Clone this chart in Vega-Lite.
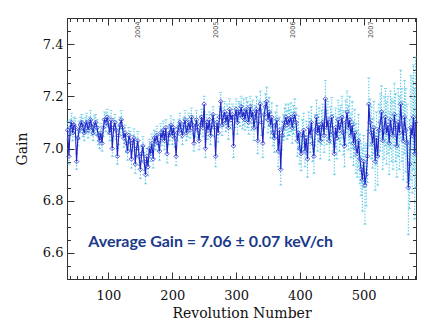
{
  "$schema": "https://vega.github.io/schema/vega-lite/v6.json",
  "width": 349,
  "height": 261,
  "autosize": {"type": "none"},
  "padding": {"left": 67, "top": 18, "right": 8, "bottom": 45},
  "background": "white",
  "config": {"view": {"stroke": "#222", "strokeWidth": 1}},
  "datasets": {
    "gain": [
      {"r":36,"g":7.07,"e":0.035},{"r":38,"g":6.97,"e":0.03},{"r":40,"g":7.08,"e":0.03},{"r":42,"g":7.10,"e":0.035},{"r":44,"g":7.06,"e":0.03},
      {"r":46,"g":7.09,"e":0.03},{"r":48,"g":7.08,"e":0.035},{"r":50,"g":6.95,"e":0.03},{"r":52,"g":7.04,"e":0.03},{"r":54,"g":7.07,"e":0.035},
      {"r":56,"g":7.09,"e":0.03},{"r":58,"g":7.10,"e":0.03},{"r":60,"g":7.08,"e":0.035},{"r":62,"g":7.06,"e":0.03},{"r":64,"g":7.09,"e":0.03},
      {"r":66,"g":7.10,"e":0.035},{"r":68,"g":7.07,"e":0.03},{"r":70,"g":7.09,"e":0.03},{"r":72,"g":7.11,"e":0.035},{"r":74,"g":7.08,"e":0.03},
      {"r":76,"g":7.06,"e":0.03},{"r":78,"g":7.09,"e":0.035},{"r":80,"g":7.10,"e":0.03},{"r":82,"g":7.08,"e":0.03},{"r":84,"g":7.05,"e":0.035},
      {"r":86,"g":7.03,"e":0.03},{"r":88,"g":7.06,"e":0.035},{"r":90,"g":7.02,"e":0.03},{"r":92,"g":7.08,"e":0.035},{"r":94,"g":7.11,"e":0.03},
      {"r":96,"g":7.10,"e":0.035},{"r":98,"g":7.12,"e":0.03},{"r":100,"g":7.09,"e":0.035},{"r":102,"g":7.06,"e":0.03},{"r":104,"g":7.11,"e":0.035},
      {"r":106,"g":7.00,"e":0.03},{"r":108,"g":7.08,"e":0.035},{"r":110,"g":7.10,"e":0.03},{"r":112,"g":7.07,"e":0.035},{"r":114,"g":6.97,"e":0.03},
      {"r":116,"g":7.05,"e":0.035},{"r":118,"g":7.09,"e":0.03},{"r":120,"g":7.11,"e":0.035},{"r":122,"g":7.08,"e":0.03},{"r":124,"g":7.04,"e":0.035},
      {"r":126,"g":7.06,"e":0.03},{"r":128,"g":7.02,"e":0.035},{"r":130,"g":6.99,"e":0.035},{"r":132,"g":7.05,"e":0.03},{"r":134,"g":7.03,"e":0.035},
      {"r":136,"g":6.96,"e":0.035},{"r":138,"g":7.02,"e":0.03},{"r":140,"g":7.04,"e":0.035},{"r":142,"g":6.94,"e":0.035},{"r":144,"g":7.00,"e":0.03},
      {"r":146,"g":7.03,"e":0.035},{"r":148,"g":6.97,"e":0.035},{"r":150,"g":6.92,"e":0.035},{"r":152,"g":6.98,"e":0.03},{"r":154,"g":7.01,"e":0.035},
      {"r":156,"g":6.95,"e":0.035},{"r":158,"g":6.90,"e":0.035},{"r":160,"g":6.97,"e":0.03},{"r":162,"g":6.93,"e":0.035},{"r":164,"g":7.00,"e":0.035},
      {"r":166,"g":6.98,"e":0.03},{"r":168,"g":7.02,"e":0.035},{"r":170,"g":6.96,"e":0.035},{"r":172,"g":7.04,"e":0.03},{"r":174,"g":7.03,"e":0.035},
      {"r":176,"g":7.05,"e":0.035},{"r":178,"g":7.02,"e":0.03},{"r":180,"g":6.99,"e":0.035},{"r":182,"g":7.06,"e":0.035},{"r":184,"g":7.04,"e":0.03},
      {"r":186,"g":7.07,"e":0.035},{"r":188,"g":7.03,"e":0.035},{"r":190,"g":7.08,"e":0.03},{"r":192,"g":6.98,"e":0.035},{"r":194,"g":7.05,"e":0.035},
      {"r":196,"g":7.06,"e":0.03},{"r":198,"g":7.09,"e":0.035},{"r":200,"g":7.05,"e":0.035},{"r":202,"g":7.08,"e":0.03},{"r":204,"g":7.04,"e":0.035},
      {"r":206,"g":6.97,"e":0.035},{"r":208,"g":7.06,"e":0.03},{"r":210,"g":7.08,"e":0.03},{"r":212,"g":7.10,"e":0.035},{"r":214,"g":7.07,"e":0.03},
      {"r":216,"g":7.05,"e":0.035},{"r":218,"g":7.09,"e":0.03},{"r":220,"g":7.11,"e":0.035},{"r":222,"g":7.06,"e":0.03},{"r":224,"g":7.08,"e":0.035},
      {"r":226,"g":7.10,"e":0.035},{"r":228,"g":7.07,"e":0.03},{"r":230,"g":7.12,"e":0.035},{"r":232,"g":7.09,"e":0.035},{"r":234,"g":7.02,"e":0.03},
      {"r":236,"g":7.08,"e":0.035},{"r":238,"g":7.11,"e":0.035},{"r":240,"g":7.07,"e":0.03},{"r":242,"g":7.03,"e":0.035},{"r":244,"g":7.09,"e":0.035},
      {"r":246,"g":7.12,"e":0.03},{"r":248,"g":7.08,"e":0.035},{"r":250,"g":7.17,"e":0.03},{"r":252,"g":7.00,"e":0.035},{"r":254,"g":7.10,"e":0.03},
      {"r":256,"g":7.07,"e":0.035},{"r":258,"g":7.11,"e":0.03},{"r":260,"g":7.05,"e":0.035},{"r":262,"g":7.09,"e":0.04},{"r":264,"g":7.13,"e":0.03},
      {"r":266,"g":7.08,"e":0.035},{"r":268,"g":6.97,"e":0.04},{"r":270,"g":7.10,"e":0.03},{"r":272,"g":7.06,"e":0.035},{"r":274,"g":7.12,"e":0.04},
      {"r":276,"g":7.18,"e":0.035},{"r":278,"g":7.09,"e":0.04},{"r":280,"g":7.12,"e":0.035},{"r":282,"g":7.14,"e":0.04},{"r":284,"g":7.10,"e":0.035},
      {"r":286,"g":7.13,"e":0.04},{"r":288,"g":7.08,"e":0.045},{"r":290,"g":7.15,"e":0.04},{"r":292,"g":7.11,"e":0.035},{"r":294,"g":7.13,"e":0.04},
      {"r":296,"g":7.01,"e":0.045},{"r":298,"g":7.12,"e":0.04},{"r":300,"g":7.15,"e":0.04},{"r":302,"g":7.10,"e":0.045},{"r":304,"g":7.14,"e":0.04},
      {"r":306,"g":7.13,"e":0.045},{"r":308,"g":7.16,"e":0.04},{"r":310,"g":7.12,"e":0.045},{"r":312,"g":7.14,"e":0.05},{"r":314,"g":7.11,"e":0.04},
      {"r":316,"g":7.15,"e":0.045},{"r":318,"g":7.13,"e":0.05},{"r":320,"g":7.10,"e":0.045},{"r":322,"g":7.16,"e":0.04},{"r":324,"g":7.12,"e":0.05},
      {"r":326,"g":7.14,"e":0.045},{"r":328,"g":7.08,"e":0.05},{"r":330,"g":7.12,"e":0.045},{"r":332,"g":7.15,"e":0.05},{"r":334,"g":7.03,"e":0.05},
      {"r":336,"g":7.14,"e":0.045},{"r":338,"g":7.17,"e":0.05},{"r":340,"g":7.10,"e":0.05},{"r":342,"g":7.02,"e":0.055},{"r":344,"g":7.13,"e":0.05},
      {"r":346,"g":7.16,"e":0.05},{"r":348,"g":7.18,"e":0.055},{"r":350,"g":7.11,"e":0.05},{"r":352,"g":7.14,"e":0.055},{"r":354,"g":7.09,"e":0.05},
      {"r":356,"g":7.12,"e":0.055},{"r":358,"g":7.06,"e":0.05},{"r":360,"g":7.04,"e":0.055},{"r":362,"g":7.09,"e":0.05},{"r":364,"g":7.11,"e":0.055},
      {"r":366,"g":6.99,"e":0.06},{"r":368,"g":7.07,"e":0.05},{"r":370,"g":6.92,"e":0.06},{"r":372,"g":7.05,"e":0.055},{"r":374,"g":7.08,"e":0.05},
      {"r":376,"g":7.10,"e":0.055},{"r":378,"g":7.12,"e":0.05},{"r":380,"g":7.09,"e":0.055},{"r":382,"g":7.11,"e":0.06},{"r":384,"g":7.10,"e":0.05},
      {"r":386,"g":7.12,"e":0.055},{"r":388,"g":7.08,"e":0.06},{"r":390,"g":7.11,"e":0.055},{"r":392,"g":7.13,"e":0.06},{"r":394,"g":7.10,"e":0.055},
      {"r":396,"g":7.03,"e":0.06},{"r":398,"g":7.06,"e":0.065},{"r":400,"g":7.00,"e":0.06},{"r":402,"g":6.98,"e":0.065},{"r":404,"g":7.05,"e":0.06},
      {"r":406,"g":7.07,"e":0.065},{"r":408,"g":6.99,"e":0.06},{"r":410,"g":7.04,"e":0.065},{"r":412,"g":6.96,"e":0.07},{"r":414,"g":7.08,"e":0.06},
      {"r":416,"g":7.05,"e":0.065},{"r":418,"g":7.10,"e":0.06},{"r":420,"g":7.02,"e":0.07},{"r":422,"g":6.97,"e":0.065},{"r":424,"g":7.07,"e":0.06},
      {"r":426,"g":7.12,"e":0.065},{"r":428,"g":7.06,"e":0.07},{"r":430,"g":7.09,"e":0.065},{"r":432,"g":7.03,"e":0.07},{"r":434,"g":7.08,"e":0.065},
      {"r":436,"g":7.10,"e":0.07},{"r":438,"g":7.05,"e":0.065},{"r":440,"g":7.19,"e":0.07},{"r":442,"g":7.08,"e":0.065},{"r":444,"g":7.11,"e":0.07},
      {"r":446,"g":7.03,"e":0.075},{"r":448,"g":7.09,"e":0.07},{"r":450,"g":7.12,"e":0.075},{"r":452,"g":7.06,"e":0.07},{"r":454,"g":6.98,"e":0.08},
      {"r":456,"g":7.08,"e":0.075},{"r":458,"g":7.04,"e":0.08},{"r":460,"g":7.11,"e":0.075},{"r":462,"g":7.07,"e":0.08},{"r":464,"g":7.09,"e":0.075},
      {"r":466,"g":7.12,"e":0.08},{"r":468,"g":7.06,"e":0.085},{"r":470,"g":7.01,"e":0.08},{"r":472,"g":7.10,"e":0.085},{"r":474,"g":7.14,"e":0.08},
      {"r":476,"g":7.08,"e":0.085},{"r":478,"g":7.11,"e":0.09},{"r":480,"g":7.05,"e":0.085},{"r":482,"g":7.09,"e":0.09},{"r":484,"g":7.02,"e":0.085},
      {"r":486,"g":7.06,"e":0.09},{"r":488,"g":7.00,"e":0.095},{"r":490,"g":6.98,"e":0.09},{"r":492,"g":7.03,"e":0.1},{"r":494,"g":6.96,"e":0.095},
      {"r":496,"g":6.92,"e":0.1},{"r":498,"g":6.88,"e":0.12},{"r":500,"g":6.95,"e":0.1},{"r":502,"g":6.86,"e":0.15},{"r":504,"g":6.90,"e":0.12},
      {"r":506,"g":6.97,"e":0.1},{"r":508,"g":7.17,"e":0.1},{"r":510,"g":7.10,"e":0.09},{"r":512,"g":7.06,"e":0.1},{"r":514,"g":7.02,"e":0.095},
      {"r":516,"g":7.08,"e":0.1},{"r":518,"g":6.95,"e":0.11},{"r":520,"g":7.04,"e":0.1},{"r":522,"g":6.97,"e":0.11},{"r":524,"g":7.07,"e":0.1},
      {"r":526,"g":7.10,"e":0.11},{"r":528,"g":7.14,"e":0.1},{"r":530,"g":7.03,"e":0.11},{"r":532,"g":7.08,"e":0.12},{"r":534,"g":7.12,"e":0.11},
      {"r":536,"g":7.06,"e":0.12},{"r":538,"g":7.09,"e":0.11},{"r":540,"g":7.02,"e":0.12},{"r":542,"g":7.11,"e":0.11},{"r":544,"g":7.07,"e":0.12},
      {"r":546,"g":7.05,"e":0.13},{"r":548,"g":7.13,"e":0.12},{"r":550,"g":7.08,"e":0.13},{"r":552,"g":7.01,"e":0.12},{"r":554,"g":7.10,"e":0.13},
      {"r":556,"g":7.06,"e":0.14},{"r":558,"g":7.17,"e":0.13},{"r":560,"g":7.09,"e":0.14},{"r":562,"g":7.03,"e":0.15},{"r":564,"g":7.12,"e":0.14},
      {"r":566,"g":7.07,"e":0.16},{"r":568,"g":7.02,"e":0.15},{"r":570,"g":6.85,"e":0.18},{"r":572,"g":6.94,"e":0.17},{"r":574,"g":7.08,"e":0.2},
      {"r":576,"g":7.05,"e":0.22},{"r":578,"g":7.12,"e":0.2},{"r":580,"g":6.98,"e":0.25},{"r":581,"g":7.10,"e":0.25}
    ],
    "years": [
      {"year":"2004","r":146},{"year":"2005","r":268},{"year":"2006","r":390},{"year":"2007","r":512}
    ]
  },
  "layer": [
    {
      "data": {"name": "gain"},
      "mark": {"type": "errorbar", "color": "#52c6e4", "rule": {"strokeDash": [1.5, 1.5], "strokeWidth": 1}, "ticks": {"size": 3, "strokeWidth": 0.8}},
      "encoding": {
        "x": {"field": "r", "type": "quantitative", "scale": {"domain": [35, 582], "nice": false, "zero": false},
          "axis": {"orient": "bottom", "title": "Revolution Number", "grid": false,
            "values": [40,50,60,70,80,90,100,110,120,130,140,150,160,170,180,190,200,210,220,230,240,250,260,270,280,290,300,310,320,330,340,350,360,370,380,390,400,410,420,430,440,450,460,470,480,490,500,510,520,530,540,550,560,570,580],
            "labelExpr": "datum.value % 100 === 0 ? datum.label : ''",
            "tickSize": {"condition": {"test": "datum.value % 100 === 0", "value": -7}, "value": -3.5},
            "labelPadding": 17, "labelOverlap": false, "labelFlush": false,
            "labelFont": "DejaVu Serif", "labelFontSize": 13, "labelColor": "#111",
            "titleFont": "DejaVu Serif", "titleFontSize": 14, "titleFontWeight": "normal", "titleColor": "#111", "titlePadding": 1,
            "domainColor": "#333", "tickColor": "#333", "tickWidth": 1}},
        "y": {"field": "g", "type": "quantitative", "scale": {"domain": [6.5, 7.5], "nice": false, "zero": false},
          "axis": {"orient": "left", "title": "Gain", "grid": false,
            "values": [6.5,6.55,6.6,6.65,6.7,6.75,6.8,6.85,6.9,6.95,7,7.05,7.1,7.15,7.2,7.25,7.3,7.35,7.4,7.45,7.5],
            "labelExpr": "abs(round(datum.value*100)) % 20 === 0 ? format(datum.value, '.1f') : ''",
            "tickSize": {"condition": {"test": "abs(round(datum.value*100)) % 20 === 0", "value": -7}, "value": -3.5},
            "labelPadding": 11, "labelOverlap": false, "labelFlush": false,
            "labelFont": "DejaVu Serif", "labelFontSize": 13, "labelColor": "#111",
            "titleFont": "DejaVu Serif", "titleFontSize": 14, "titleFontWeight": "normal", "titleColor": "#111", "titlePadding": 13,
            "domainColor": "#333", "tickColor": "#333", "tickWidth": 1}},
        "yError": {"field": "e"}
      }
    },
    {
      "data": {"name": "gain"},
      "mark": {"type": "line", "color": "#2020c4", "strokeWidth": 1.1,
        "point": {"shape": "diamond", "filled": false, "size": 20, "stroke": "#3838d4", "strokeWidth": 0.8}},
      "encoding": {
        "x": {"field": "r", "type": "quantitative",
          "axis": {"orient": "top", "title": null, "grid": false, "labels": false,
            "values": [40,50,60,70,80,90,100,110,120,130,140,150,160,170,180,190,200,210,220,230,240,250,260,270,280,290,300,310,320,330,340,350,360,370,380,390,400,410,420,430,440,450,460,470,480,490,500,510,520,530,540,550,560,570,580],
            "tickSize": {"condition": {"test": "datum.value % 100 === 0", "value": -7}, "value": -3.5},
            "domainColor": "#333", "tickColor": "#333", "tickWidth": 1}},
        "y": {"field": "g", "type": "quantitative",
          "axis": {"orient": "right", "title": null, "grid": false, "labels": false,
            "values": [6.5,6.55,6.6,6.65,6.7,6.75,6.8,6.85,6.9,6.95,7,7.05,7.1,7.15,7.2,7.25,7.3,7.35,7.4,7.45,7.5],
            "tickSize": {"condition": {"test": "abs(round(datum.value*100)) % 20 === 0", "value": -7}, "value": -3.5},
            "domainColor": "#333", "tickColor": "#333", "tickWidth": 1}}
      }
    },
    {
      "data": {"name": "years"},
      "mark": {"type": "text", "angle": 270, "font": "DejaVu Sans", "fontSize": 6.5, "color": "#444", "align": "center", "baseline": "middle"},
      "encoding": {
        "x": {"field": "r", "type": "quantitative", "axis": null},
        "y": {"datum": 7.455, "type": "quantitative", "axis": null},
        "text": {"field": "year"}
      }
    },
    {
      "data": {"values": [{"label": "Average Gain = 7.06 ± 0.07 keV/ch"}]},
      "mark": {"type": "text", "font": "Lato", "fontWeight": "bold", "fontSize": 16, "color": "#1b3a8a", "align": "left", "baseline": "middle"},
      "encoding": {
        "x": {"datum": 68.3, "type": "quantitative", "axis": null},
        "y": {"datum": 6.643, "type": "quantitative", "axis": null},
        "text": {"field": "label"}
      }
    }
  ],
  "resolve": {"axis": {"x": "independent", "y": "independent"}}
}
